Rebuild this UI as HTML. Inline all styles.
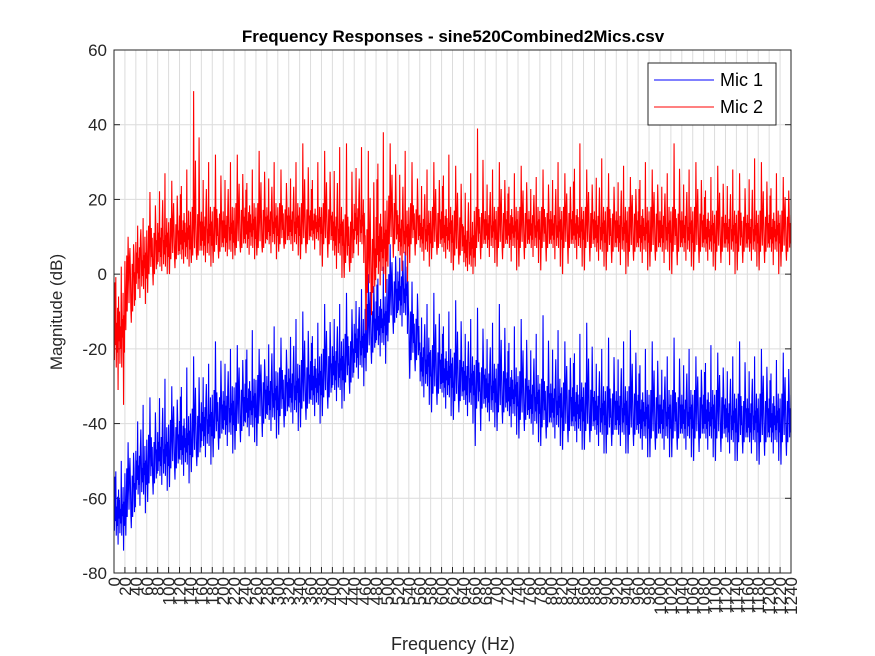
<!DOCTYPE html>
<html><head><meta charset="utf-8"><style>
html,body{margin:0;padding:0;background:#fff;}
svg{display:block;font-family:"Liberation Sans",Arial,sans-serif;}
</style></head><body>
<svg id="chart" width="875" height="656" viewBox="0 0 875 656" xmlns="http://www.w3.org/2000/svg">
<rect x="0" y="0" width="875" height="656" fill="#fff"/>
<text x="453" y="42" text-anchor="middle" font-size="17" font-weight="bold" fill="#000">Frequency Responses - sine520Combined2Mics.csv</text>
<text x="453" y="650" text-anchor="middle" font-size="18" fill="#262626">Frequency (Hz)</text>
<text transform="translate(62,312) rotate(-90)" text-anchor="middle" font-size="17" fill="#262626">Magnitude (dB)</text>
<g id="grid"></g>
<g id="yticks"></g>
<g id="xticks"></g>
<defs><clipPath id="clip"><rect x="114" y="50" width="677" height="523"/></clipPath></defs>
<g id="series" clip-path="url(#clip)"></g>
<rect x="114" y="50" width="677" height="523" fill="none" stroke="#262626" stroke-width="1"/>
<g>
<rect x="648" y="63" width="128" height="62" fill="#fff" stroke="#262626" stroke-width="1"/>
<line x1="654" y1="80" x2="714" y2="80" stroke="#0000ff" stroke-width="1"/>
<text x="720" y="86" font-size="18" fill="#000">Mic 1</text>
<line x1="654" y1="107" x2="714" y2="107" stroke="#ff0000" stroke-width="1"/>
<text x="720" y="113" font-size="18" fill="#000">Mic 2</text>
</g>
</svg>
<script>
const binFreqs = Array.from({length:63},(_, i)=>i*20);
const yTickValues = [-80,-60,-40,-20,0,20,40,60];
const mic1Lo = [-70,-65,-59,-56,-54,-52,-51,-49,-46,-44,-43,-42,-41,-40,-39,-38,-37,-36,-35,-33,-31,-29,-25,-21,-19,-13,-11,-23,-30,-32,-33,-34,-35,-36,-37,-37,-38,-39,-40,-41,-41,-42,-42,-42,-43,-43,-43,-43,-44,-44,-44,-44,-44,-44,-44,-44,-45,-45,-45,-45,-45,-45,-44];
const mic1Hi = [-57,-52,-46,-43,-41,-39,-38,-36,-33,-31,-30,-29,-28,-27,-26,-25,-24,-23,-22,-20,-18,-16,-12,-8,-6,0,2,-10,-17,-19,-20,-21,-22,-23,-24,-24,-25,-26,-27,-28,-28,-29,-29,-29,-30,-30,-30,-30,-31,-31,-31,-31,-31,-31,-31,-31,-32,-32,-32,-32,-32,-32,-31];
const mic1Pk = [-50,-45,-35,-33,-28,-30,-25,-22,-24,-18,-20,-19,-15,-20,-14,-17,-12,-10,-13,-8,-8,-5,-4,0,2,8,6,-2,-8,-5,-10,-7,-12,-9,-13,-8,-14,-12,-16,-11,-15,-18,-16,-13,-20,-17,-18,-15,-20,-18,-22,-17,-20,-22,-19,-21,-22,-18,-22,-20,-23,-21,-24];
const mic1Dip = [-74,-70,-64,-61,-58,-57,-56,-53,-51,-49,-48,-47,-45,-46,-44,-43,-42,-41,-40,-38,-36,-34,-30,-26,-24,-18,-16,-28,-35,-37,-38,-39,-40,-46,-41,-42,-43,-44,-45,-46,-46,-47,-47,-47,-48,-48,-48,-48,-49,-49,-49,-49,-49,-50,-49,-50,-50,-50,-50,-51,-50,-51,-49];
const mic2Lo = [-25,-10,-4,0,2,4,4,5,5,6,6,7,7,7,8,8,8,8,9,8,5,3,8,-5,0,8,5,8,6,7,6,5,2,7,7,7,7,7,7,7,7,7,7,7,6,6,6,6,6,6,6,6,6,6,6,6,6,6,6,6,6,6,6];
const mic2Hi = [-5,5,10,13,15,15,17,18,18,18,18,19,19,19,19,19,19,19,18,19,18,16,20,12,17,21,17,19,17,18,18,17,14,18,18,18,18,18,18,18,18,18,18,18,18,18,18,18,18,18,18,18,18,18,17,17,17,17,17,17,17,17,17];
const mic2Pk = [2,10,15,22,27,25,28,49,30,32,30,32,28,33,30,28,30,35,30,33,34,35,34,33,38,35,33,30,28,30,32,29,27,39,28,30,27,29,26,28,30,27,35,28,31,27,29,26,30,28,27,35,28,30,26,29,28,27,31,30,27,26,28];
const mic2Dip = [-35,-15,-8,-5,0,0,2,3,2,3,4,5,4,5,4,6,5,4,5,2,-1,-1,3,-15,-5,2,-2,3,2,4,3,1,0,2,3,2,1,2,3,1,2,0,2,1,2,1,0,2,1,2,1,0,2,1,2,1,0,1,2,1,0,2,1];

const X0=114, X1=791, Y0=50, Y1=573, FMAX=1240, YMIN=-80, YMAX=60;
function xScale(f){return X0+(f/FMAX)*(X1-X0);}
function yScale(v){return Y1-(v-YMIN)/(YMAX-YMIN)*(Y1-Y0);}
const NS="http://www.w3.org/2000/svg";
const grid=document.getElementById('grid'), yt=document.getElementById('yticks'), xt=document.getElementById('xticks'), series=document.getElementById('series');

yTickValues.forEach(v=>{
  const y=yScale(v);
  const g=document.createElementNS(NS,'line');
  g.setAttribute('x1',X0);g.setAttribute('x2',X1);g.setAttribute('y1',y);g.setAttribute('y2',y);
  g.setAttribute('stroke','#dcdcdc');g.setAttribute('stroke-width','1');
  
  
  grid.appendChild(g);
  const t=document.createElementNS(NS,'line');
  t.setAttribute('x1',X0);t.setAttribute('x2',X0+6);t.setAttribute('y1',y);t.setAttribute('y2',y);t.setAttribute('stroke','#262626');
  
  
  yt.appendChild(t);
  const t2=document.createElementNS(NS,'line');
  t2.setAttribute('x1',X1-6);t2.setAttribute('x2',X1);t2.setAttribute('y1',y);t2.setAttribute('y2',y);t2.setAttribute('stroke','#262626');
  
  
  yt.appendChild(t2);
  const l=document.createElementNS(NS,'text');
  l.setAttribute('x',X0-7);l.setAttribute('y',y+6);l.setAttribute('text-anchor','end');l.setAttribute('font-size','17');l.setAttribute('fill','#262626');
  l.textContent=String(v);
  
  
  yt.appendChild(l);
});
binFreqs.forEach(f=>{
  const x=xScale(f);
  const g=document.createElementNS(NS,'line');
  g.setAttribute('x1',x);g.setAttribute('x2',x);g.setAttribute('y1',Y0);g.setAttribute('y2',Y1);
  g.setAttribute('stroke','#dcdcdc');g.setAttribute('stroke-width','1');
  
  
  grid.appendChild(g);
  const t=document.createElementNS(NS,'line');
  t.setAttribute('x1',x);t.setAttribute('x2',x);t.setAttribute('y1',Y1-6);t.setAttribute('y2',Y1);t.setAttribute('stroke','#262626');
  
  
  xt.appendChild(t);
  const l=document.createElementNS(NS,'text');
  l.setAttribute('x',x+6);l.setAttribute('y',Y1+4);
  l.setAttribute('transform','rotate(-90 '+(x+6)+' '+(Y1+4)+')');
  l.setAttribute('text-anchor','end');l.setAttribute('font-size','17');l.setAttribute('fill','#262626');
  l.textContent=String(f);
  
  
  xt.appendChild(l);
});

const pattern=[0.9,0.1,0.7,0.3,1.0,0.0,0.6,0.2,0.8,0.15,0.95,0.35,0.75,0.05,0.55,0.25,0.85,0.0,0.65,0.4,1.0,0.1,0.7,0.2];
function drawSeries(lo,hi,pk,dip,color,name){
  const pts=[];
  const S=pattern.length;
  binFreqs.forEach((f,i)=>{
    for(let k=0;k<S;k++){
      const ff=f+k*20/S;
      let v=lo[i]+pattern[k]*(hi[i]-lo[i]);
      if(k===(i%2?7:16)) v=pk[i];
      if(k===(i%2?19:4)) v=hi[i]+(pk[i]-hi[i])*0.6;
      if(k===(i%3?11:2)) v=hi[i]+(pk[i]-hi[i])*0.4;
      if(k===(i%2?2:21)) v=dip[i];
      if(k===(i%2?14:9)) v=lo[i]+(dip[i]-lo[i])*0.6;
      pts.push(xScale(ff).toFixed(2)+','+yScale(v).toFixed(2));
    }
  });
  const p=document.createElementNS(NS,'polyline');
  p.setAttribute('points',pts.join(' '));
  p.setAttribute('fill','none');p.setAttribute('stroke',color);p.setAttribute('stroke-width','1.1');
  
  
  series.appendChild(p);
}
drawSeries(mic1Lo,mic1Hi,mic1Pk,mic1Dip,'#0000ff','mic1-line');
drawSeries(mic2Lo,mic2Hi,mic2Pk,mic2Dip,'#ff0000','mic2-line');
</script>
</body></html>
